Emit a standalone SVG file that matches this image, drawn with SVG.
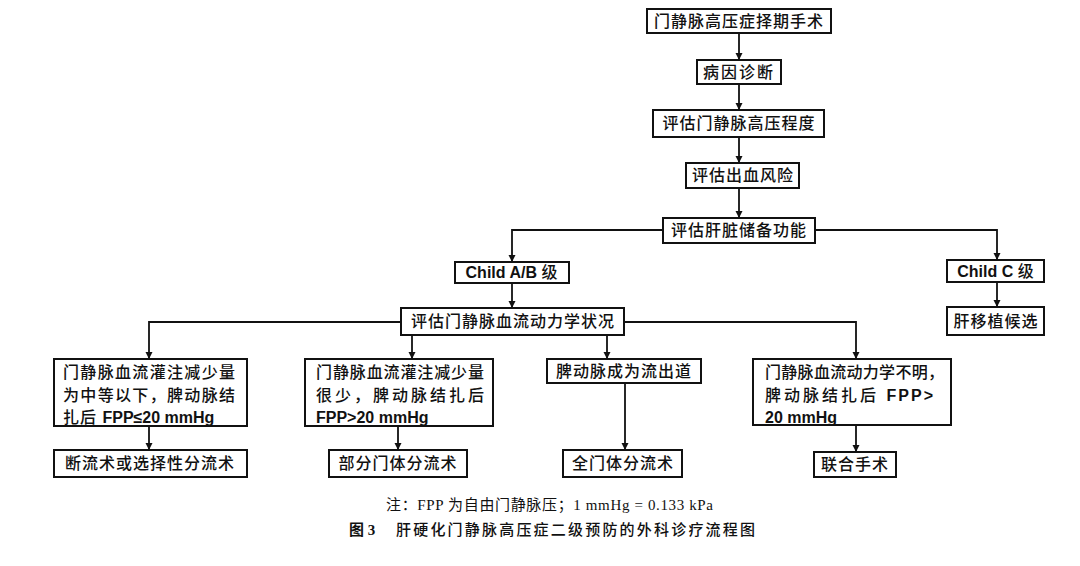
<svg xmlns="http://www.w3.org/2000/svg" width="1080" height="566" viewBox="0 0 1080 566">
<defs>
<marker id="arr" markerWidth="8" markerHeight="8" refX="7" refY="4" orient="auto" markerUnits="userSpaceOnUse">
<path d="M0,0.5 L7,4 L0,7.5 Z" fill="#111"/>
</marker>
<style>
.box{fill:#fff;stroke:#111;stroke-width:2}
.t{font-family:"Liberation Sans","Noto Sans CJK SC",sans-serif;font-size:16px;font-weight:500;fill:#111;letter-spacing:1px}
.c{text-anchor:middle}
.lat{font-weight:bold;letter-spacing:0}
.con{fill:none;stroke:#111;stroke-width:1.8;marker-end:url(#arr)}
.cap{font-family:"Liberation Serif","Noto Sans CJK SC",serif;font-size:15px;fill:#111}
</style>
</defs>
<rect width="1080" height="566" fill="#fff"/>
<g id="connectors">
<path class="con" d="M739,33 V60"/>
<path class="con" d="M739,84 V110"/>
<path class="con" d="M739,137 V163"/>
<path class="con" d="M739,188 V218"/>
<path class="con" d="M663,230 H512 V262"/>
<path class="con" d="M815,230 H997 V260"/>
<path class="con" d="M512,283 V308"/>
<path class="con" d="M997,282 V307"/>
<path class="con" d="M401,322 H149 V359"/>
<path class="con" d="M624,322 H856 V359"/>
<path class="con" d="M412,335 V359"/>
<path class="con" d="M607,335 V359"/>
<path class="con" d="M149,426 V450"/>
<path class="con" d="M398,426 V450"/>
<path class="con" d="M625,383 V450"/>
<path class="con" d="M856,425 V452"/>
</g>
<g id="n1"><rect class="box" x="647" y="9" width="184" height="24"/><text class="t c" x="739" y="27">门静脉高压症择期手术</text></g>
<g id="n2"><rect class="box" x="697" y="60" width="84" height="24"/><text class="t c" x="739" y="78" style="letter-spacing:2px">病因诊断</text></g>
<g id="n3"><rect class="box" x="653" y="110" width="171" height="27"/><text class="t c" x="739" y="129">评估门静脉高压程度</text></g>
<g id="n4"><rect class="box" x="686" y="163" width="113" height="25"/><text class="t c" x="743" y="181">评估出血风险</text></g>
<g id="n5"><rect class="box" x="663" y="218" width="152" height="25"/><text class="t c" x="739" y="236">评估肝脏储备功能</text></g>
<g id="n6"><rect class="box" x="455" y="262" width="114" height="21"/><text class="t c" x="512" y="278"><tspan class="lat">Child A/B </tspan>级</text></g>
<g id="n7"><rect class="box" x="947" y="260" width="97" height="22"/><text class="t c" x="996" y="277"><tspan class="lat">Child C </tspan>级</text></g>
<g id="n8"><rect class="box" x="947" y="307" width="97" height="28"/><text class="t c" x="996" y="327">肝移植候选</text></g>
<g id="n9"><rect class="box" x="401" y="308" width="223" height="27"/><text class="t c" x="513" y="327">评估门静脉血流动力学状况</text></g>
<g id="n10"><rect class="box" x="54" y="359" width="193" height="67"/>
<text class="t" x="63" y="378" textLength="173" lengthAdjust="spacing">门静脉血流灌注减少量</text>
<text class="t" x="63" y="401" textLength="173" lengthAdjust="spacing">为中等以下，脾动脉结</text>
<text class="t" x="63" y="423">扎后 <tspan class="lat">FPP≤20 mmHg</tspan></text></g>
<g id="n11"><rect class="box" x="305" y="359" width="188" height="67"/>
<text class="t" x="316" y="378" textLength="169" lengthAdjust="spacing">门静脉血流灌注减少量</text>
<text class="t" x="316" y="401" textLength="169" lengthAdjust="spacing">很少，脾动脉结扎后</text>
<text class="t" x="316" y="423"><tspan class="lat">FPP&gt;20 mmHg</tspan></text></g>
<g id="n12"><rect class="box" x="547" y="359" width="154" height="24"/><text class="t c" x="624" y="377">脾动脉成为流出道</text></g>
<g id="n13"><rect class="box" x="753" y="359" width="198" height="66"/>
<text class="t" x="765" y="378" textLength="180" lengthAdjust="spacing">门静脉血流动力学不明，</text>
<text class="t" x="765" y="401" textLength="168" lengthAdjust="spacing">脾动脉结扎后 <tspan class="lat">FPP&gt;</tspan></text>
<text class="t" x="765" y="423"><tspan class="lat">20 mmHg</tspan></text></g>
<g id="n14"><rect class="box" x="54" y="450" width="193" height="27"/><text class="t c" x="150" y="469">断流术或选择性分流术</text></g>
<g id="n15"><rect class="box" x="329" y="450" width="138" height="27"/><text class="t c" x="398" y="469">部分门体分流术</text></g>
<g id="n16"><rect class="box" x="563" y="450" width="119" height="27"/><text class="t c" x="623" y="469">全门体分流术</text></g>
<g id="n17"><rect class="box" x="814" y="452" width="82" height="25"/><text class="t c" x="855" y="470">联合手术</text></g>
<text class="cap" x="386" y="510" textLength="327" lengthAdjust="spacing">注：FPP 为自由门静脉压；1 mmHg = 0.133 kPa</text>
<text class="cap" x="349" y="535" style="font-weight:bold"><tspan>图 3</tspan><tspan x="396" textLength="359" lengthAdjust="spacing" style="font-weight:500">肝硬化门静脉高压症二级预防的外科诊疗流程图</tspan></text>
</svg>
